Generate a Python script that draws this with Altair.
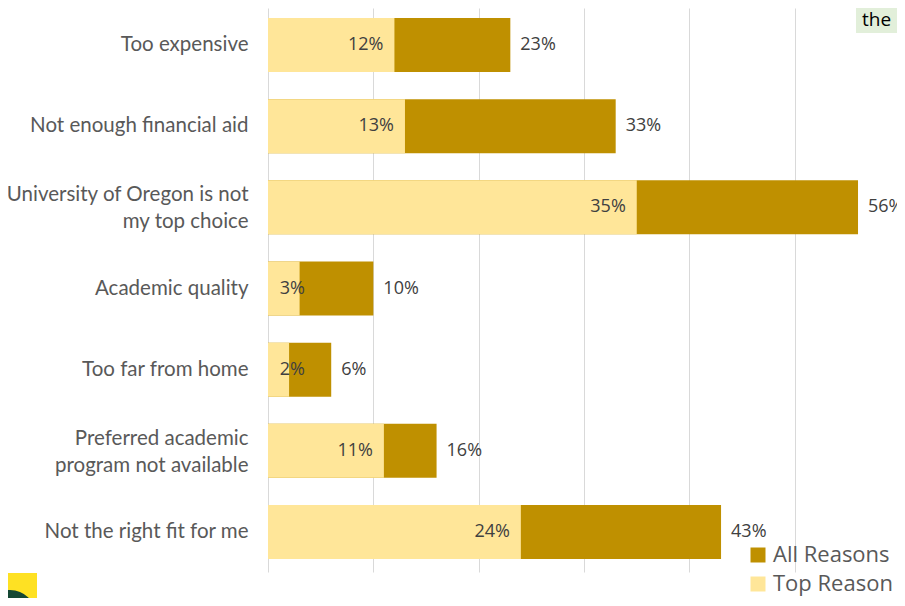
import altair as alt
import pandas as pd

categories = [
    "Too expensive",
    "Not enough financial aid",
    "University of Oregon is not\nmy top choice",
    "Academic quality",
    "Too far from home",
    "Preferred academic\nprogram not available",
    "Not the right fit for me",
]
top_reason = [12, 13, 35, 3, 2, 11, 24]
all_reasons = [23, 33, 56, 10, 6, 16, 43]
x_ticks = [0, 10, 20, 30, 40, 50]
series = ["All Reasons", "Top Reason"]
colors = ["#BF9000", "#FFE699"]

df = pd.DataFrame({
    "reason": categories,
    "top": top_reason,
    "all": all_reasons,
    "top_lbl": [f"{v}%" for v in top_reason],
    "all_lbl": [f"{v}%" for v in all_reasons],
})

LABEL_FONT = "Lato"
VALUE_FONT = "Open Sans"

y_enc = alt.Y(
    "reason:N", sort=categories,
    scale=alt.Scale(paddingInner=0.335, paddingOuter=0.1416, align=0.435),
    axis=alt.Axis(title=None, ticks=False, domain=False, grid=False,
                  labelPadding=20, labelFontSize=20.5, labelColor="#595959",
                  labelFont=LABEL_FONT, labelLimit=300, labelLineHeight=27,
                  labelOffset={"condition": {"test": "indexof(datum.label, '\\n') >= 0",
                                             "value": -12},
                               "value": 0},
                  labelExpr="split(datum.label, '\\n')"),
)
x_scale = alt.Scale(domain=[0, 59.7], nice=False, zero=True)
x_axis = alt.Axis(values=x_ticks, labels=False, ticks=False, domain=False,
                  title=None, grid=True, gridColor="#d9d9d9", gridWidth=1)
color_scale = alt.Scale(domain=series, range=colors)
legend = alt.Legend(title=None, orient="none", legendX=479, legendY=536,
                    symbolType="square", symbolSize=225, symbolStrokeWidth=0,
                    labelFontSize=22, labelFont=VALUE_FONT, labelColor="#595959",
                    labelOffset=4, rowPadding=7, padding=0)

base = alt.Chart(df)

bars_all = base.transform_calculate(s="'All Reasons'").mark_bar().encode(
    x=alt.X("all:Q", scale=x_scale, axis=x_axis),
    y=y_enc,
    color=alt.Color("s:N", scale=color_scale, legend=legend),
)
bars_top = base.transform_calculate(s="'Top Reason'").mark_bar().encode(
    x=alt.X("top:Q", scale=x_scale, axis=x_axis),
    y=y_enc,
    color=alt.Color("s:N", scale=color_scale, legend=legend),
)
lbl_top = base.transform_calculate(lx="max(datum.top, 4.55)").mark_text(
    align="right", baseline="middle", dx=-11, font=VALUE_FONT, fontSize=18, color="#404040"
).encode(x=alt.X("lx:Q", scale=x_scale, axis=x_axis), y=y_enc, text="top_lbl:N")
lbl_all = base.mark_text(
    align="left", baseline="middle", dx=10, font=VALUE_FONT, fontSize=18, color="#404040"
).encode(x=alt.X("all:Q", scale=x_scale, axis=x_axis), y=y_enc, text="all_lbl:N")

deco = alt.Chart(pd.DataFrame({"a": [0]}))
note_box = deco.mark_rect(color="#E2EFDA").encode(
    x=alt.value(588), x2=alt.value(680), y=alt.value(-8), y2=alt.value(25))
note_txt = deco.mark_text(text="the", align="left", baseline="alphabetic",
                          font=VALUE_FONT, fontSize=19, color="#000000").encode(
    x=alt.value(594), y=alt.value(18))
logo_box = deco.mark_rect(color="#FEE123").encode(
    x=alt.value(-262), x2=alt.value(-231), y=alt.value(565), y2=alt.value(600))
logo_ring = deco.mark_point(shape="circle", filled=False, stroke="#154733",
                            strokeWidth=8, size=1936, opacity=1).encode(
    x=alt.value(-258), y=alt.value(608))

chart = alt.layer(
    bars_all, bars_top, lbl_top, lbl_all, note_box, note_txt, logo_box, logo_ring
).properties(
    width=629, height=564,
    autosize=alt.AutoSizeParams(type="none"),
    padding={"left": 260, "top": 0, "right": 0, "bottom": 26},
).configure(background="#ffffff").configure_view(stroke=None)

chart.save("out.html", embed_options={"renderer": "svg", "actions": False})
